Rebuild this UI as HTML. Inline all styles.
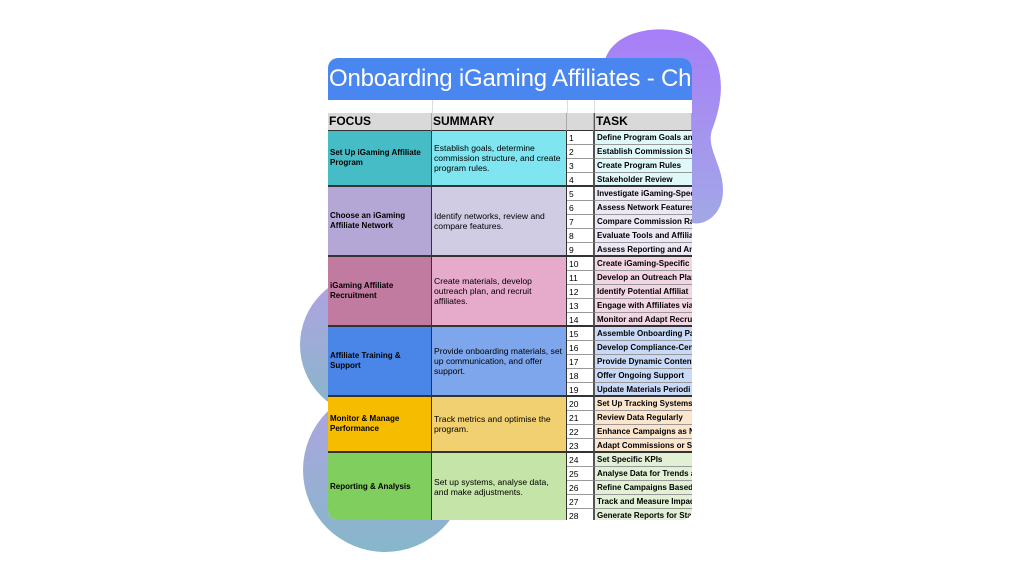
<!DOCTYPE html>
<html><head><meta charset="utf-8"><style>
body{margin:0;width:1024px;height:577px;background:#fff;position:relative;overflow:hidden;font-family:"Liberation Sans",Arial,sans-serif}
svg.bg{position:absolute;left:0;top:0}
.card{position:absolute;left:328px;top:58px;width:364px;height:462px;background:#fff;border-radius:10px;overflow:hidden}
.title{position:absolute;left:0;top:0;width:364px;height:42px;background:#4a86f0;color:#fff;font-size:24px;line-height:42px;white-space:nowrap;padding-left:1px;letter-spacing:-0.2px}
.c{position:absolute;box-sizing:border-box;overflow:hidden;white-space:nowrap}
.hd{background:#d9d9d9;font-weight:bold;font-size:12px;line-height:17px;padding-left:1px;border-bottom:1px solid #333;border-right:1px solid #aaa}
.f{font-weight:bold;font-size:8px;line-height:10px;padding-left:2px;display:flex;align-items:center;white-space:normal;border-right:1px solid #333;border-bottom:2px solid #333}
.s{font-size:8.6px;line-height:10px;padding:0 2px;display:flex;align-items:center;white-space:normal;border-right:1px solid #333;border-bottom:2px solid #333}
.n{font-size:8.5px;padding-left:2px;background:#fff;border-bottom:1px solid #999;border-right:1px solid #555}
.t{font-size:8px;font-weight:bold;padding-left:2px;border-bottom:1px solid #999}
</style></head><body>
<svg class="bg" width="1024" height="577">
<defs>
<linearGradient id="g1" x1="0" y1="0" x2="0" y2="1"><stop offset="0" stop-color="#a77ef8"/><stop offset="1" stop-color="#a2a8e6"/></linearGradient>
<linearGradient id="g2" x1="0" y1="0" x2="0" y2="1"><stop offset="0" stop-color="#b2a2e2"/><stop offset="1" stop-color="#86b7c9"/></linearGradient>
</defs>
<path d="M605,60 C615,25 680,20 705,45 C730,70 720,110 712,130 C705,150 728,170 722,200 C716,225 690,230 680,215 L600,160 Z" fill="url(#g1)"/>
<g fill="url(#g2)">
<circle cx="372" cy="345" r="72"/>
<circle cx="385" cy="470" r="82"/>
<rect x="330" y="380" width="100" height="80"/>
</g>
</svg>
<div class="card">
<div class="title">Onboarding iGaming Affiliates - Checklist</div>
<div class="c" style="left:104px;top:42px;width:1px;height:13px;background:#ddd"></div>
<div class="c" style="left:239px;top:42px;width:1px;height:13px;background:#ddd"></div>
<div class="c" style="left:266px;top:42px;width:1px;height:13px;background:#ddd"></div>
<div class="c hd" style="left:0;top:55px;width:104px;height:18px">FOCUS</div>
<div class="c hd" style="left:104px;top:55px;width:135px;height:18px">SUMMARY</div>
<div class="c hd" style="left:239px;top:55px;width:27px;height:18px"></div>
<div class="c hd" style="left:266px;top:55px;width:98px;height:18px;border-left:1px solid #555">TASK</div>
<div id="rows"></div>
</div>
<script>
var G=[
["Set Up iGaming Affiliate Program","Establish goals, determine commission structure, and create program rules.","#46bdc6","#7fe5f0","#dff8fa",["Define Program Goals and","Establish Commission Str","Create Program Rules","Stakeholder Review"]],
["Choose an iGaming Affiliate Network","Identify networks, review and compare features.","#b4a7d6","#d0cce4","#ece8f5",["Investigate iGaming-Speci","Assess Network Features","Compare Commission Rat","Evaluate Tools and Affiliat","Assess Reporting and Ana"]],
["iGaming Affiliate Recruitment","Create materials, develop outreach plan, and recruit affiliates.","#c27ba0","#e6aacb","#f2d6e4",["Create iGaming-Specific","Develop an Outreach Plan","Identify Potential Affiliat","Engage with Affiliates via","Monitor and Adapt Recru"]],
["Affiliate Training & Support","Provide onboarding materials, set up communication, and offer support.","#4a86e8","#7ea6ec","#c9daf8",["Assemble Onboarding Pa","Develop Compliance-Cent","Provide Dynamic Content","Offer Ongoing Support","Update Materials Periodi"]],
["Monitor & Manage Performance","Track metrics and optimise the program.","#f6bc00","#f0d070","#fce5cd",["Set Up Tracking Systems","Review Data Regularly","Enhance Campaigns as N","Adapt Commissions or St"]],
["Reporting & Analysis","Set up systems, analyse data, and make adjustments.","#80cf5e","#c4e4a8","#e2f0d6",["Set Specific KPIs","Analyse Data for Trends a","Refine Campaigns Based","Track and Measure Impac","Generate Reports for Sta"]]];
var h='',y=73,n=1,RH=14;
G.forEach(function(g){var H=g[5].length*RH;
h+='<div class="c f" style="left:0;top:'+y+'px;width:104px;height:'+H+'px;background:'+g[2]+'">'+g[0]+'</div>';
h+='<div class="c s" style="left:104px;top:'+y+'px;width:135px;height:'+H+'px;background:'+g[3]+'">'+g[1]+'</div>';
g[5].forEach(function(t,i){var yy=y+i*RH,last=i==g[5].length-1;
h+='<div class="c n" style="left:239px;top:'+yy+'px;width:27px;height:'+RH+'px;line-height:'+RH+'px;'+(last?'border-bottom:2px solid #333':'')+'">'+(n++)+'</div>';
h+='<div class="c t" style="left:266px;top:'+yy+'px;width:98px;height:'+RH+'px;line-height:'+RH+'px;background:'+g[4]+';border-left:1px solid #555;'+(last?'border-bottom:2px solid #333':'')+'">'+t+'</div>';});
y+=H;});
document.getElementById('rows').outerHTML=h;
</script>
</body></html>
